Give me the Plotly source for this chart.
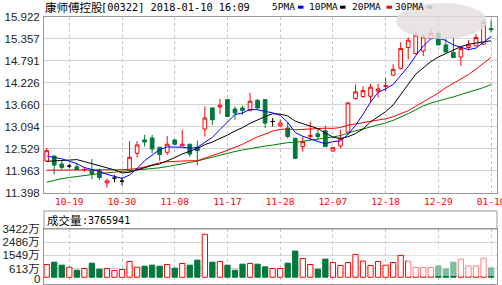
import plotly.graph_objects as go

# ---------------- data ----------------
dates = ["10-16", "10-17", "10-18", "10-19", "10-20", "10-23", "10-24", "10-25", "10-26", "10-27",
         "10-30", "10-31", "11-01", "11-02", "11-03", "11-06", "11-07", "11-08", "11-09", "11-10",
         "11-13", "11-14", "11-15", "11-16", "11-17", "11-20", "11-21", "11-22", "11-23", "11-24",
         "11-27", "11-28", "11-29", "11-30", "12-01", "12-04", "12-05", "12-06", "12-07", "12-08",
         "12-11", "12-12", "12-13", "12-14", "12-15", "12-18", "12-19", "12-20", "12-21", "12-22",
         "12-27", "12-28", "12-29", "01-02", "01-03", "01-04", "01-05", "01-08", "01-09", "01-10"]

opens = [12.213, 12.342, 12.135, 12.083, 12.065, 11.985, 11.979, 11.979, 11.650, 11.772,
         11.694, 11.966, 12.412, 12.757, 12.809, 12.568, 12.438, 12.757, 12.602, 12.646,
         12.568, 13.035, 13.580, 13.606, 13.795, 13.554, 13.580, 13.517, 13.777, 13.795,
         13.232, 13.120, 13.061, 12.801, 12.584, 12.843, 12.913, 12.991, 12.472, 12.602,
         12.957, 13.821, 13.873, 13.881, 14.015, 14.132, 14.425, 14.599, 15.136, 14.980,
         15.048, 15.369, 15.499, 15.203, 15.006, 14.892, 15.136, 15.178, 15.222, 15.624]
highs = [12.550, 12.360, 12.220, 12.135, 12.179, 12.065, 12.264, 12.023, 11.760, 11.850,
         11.798, 12.724, 12.724, 12.887, 12.887, 12.570, 12.861, 12.770, 13.017, 12.650,
         12.740, 13.621, 13.600, 13.813, 13.800, 13.621, 13.639, 13.969, 13.813, 13.800,
         13.320, 13.276, 13.216, 12.805, 12.843, 13.216, 13.035, 13.120, 12.560, 13.017,
         13.735, 14.184, 14.140, 14.202, 14.202, 14.358, 14.703, 15.266, 15.396, 15.567,
         15.481, 15.611, 15.559, 15.411, 15.411, 15.178, 15.325, 15.481, 15.870, 15.844]
lows = [12.200, 11.868, 11.997, 12.031, 11.979, 11.935, 11.746, 11.720, 11.530, 11.670,
        11.590, 11.935, 12.303, 12.584, 12.412, 12.220, 12.368, 12.620, 12.600, 12.324,
        12.109, 12.843, 13.147, 13.424, 13.360, 13.276, 13.406, 13.491, 13.535, 13.061,
        13.102, 13.100, 12.801, 12.264, 12.454, 12.757, 12.757, 12.580, 12.454, 12.542,
        12.887, 13.795, 13.839, 13.735, 13.850, 14.010, 14.399, 14.573, 14.833, 14.962,
        14.918, 15.351, 15.196, 15.014, 14.877, 14.659, 15.066, 15.170, 15.209, 15.525]
closes = [12.480, 12.109, 12.049, 12.083, 11.997, 11.995, 11.875, 11.790, 11.702, 11.772,
          11.694, 12.309, 12.628, 12.705, 12.524, 12.381, 12.646, 12.646, 12.646, 12.394,
          12.480, 13.320, 13.276, 13.647, 13.362, 13.450, 13.517, 13.751, 13.580, 13.191,
          13.232, 13.190, 12.843, 12.283, 12.713, 12.869, 12.843, 12.584, 12.558, 12.801,
          13.709, 13.995, 14.028, 14.114, 14.067, 14.150, 14.573, 15.110, 15.325, 15.455,
          15.411, 15.499, 15.203, 15.022, 14.877, 15.110, 15.203, 15.395, 15.784, 15.598]

ma5 = [12.34, 12.31, 12.27, 12.21, 12.144, 12.046, 11.999, 11.947, 11.871, 11.826,
       11.767, 11.853, 12.021, 12.222, 12.372, 12.509, 12.577, 12.580, 12.569, 12.543,
       12.562, 12.697, 12.823, 13.023, 13.217, 13.411, 13.450, 13.545, 13.532, 13.498,
       13.454, 13.389, 13.207, 12.948, 12.852, 12.780, 12.710, 12.658, 12.713, 12.731,
       12.899, 13.129, 13.418, 13.729, 13.983, 14.071, 14.186, 14.403, 14.645, 14.923,
       15.175, 15.360, 15.379, 15.318, 15.202, 15.142, 15.083, 15.121, 15.274, 15.418]
ma10 = [12.205, 12.213, 12.226, 12.24, 12.25, 12.20, 12.15, 12.10, 12.04, 11.985,
        11.906, 11.926, 11.984, 12.046, 12.099, 12.138, 12.215, 12.301, 12.395, 12.457,
        12.536, 12.637, 12.702, 12.796, 12.880, 12.987, 13.074, 13.184, 13.278, 13.357,
        13.433, 13.420, 13.376, 13.240, 13.175, 13.117, 13.050, 12.933, 12.831, 12.792,
        12.839, 12.920, 13.038, 13.221, 13.357, 13.485, 13.658, 13.911, 14.187, 14.453,
        14.623, 14.773, 14.891, 14.982, 15.063, 15.159, 15.222, 15.250, 15.296, 15.310]
ma20 = [11.979, 11.979, 11.980, 11.980, 11.980, 11.980, 11.980, 11.980, 11.981, 11.985,
        11.990, 12.000, 12.020, 12.060, 12.120, 12.170, 12.195, 12.208, 12.215, 12.221,
        12.221, 12.282, 12.343, 12.421, 12.490, 12.563, 12.645, 12.743, 12.837, 12.907,
        12.985, 13.029, 13.039, 13.018, 13.028, 13.052, 13.062, 13.059, 13.055, 13.075,
        13.136, 13.170, 13.207, 13.231, 13.266, 13.301, 13.354, 13.422, 13.509, 13.623,
        13.731, 13.847, 13.965, 14.102, 14.210, 14.322, 14.440, 14.581, 14.742, 14.882]
ma30 = [11.668, 11.720, 11.759, 11.790, 11.818, 11.842, 11.862, 11.888, 11.909, 11.927,
        11.940, 11.953, 11.971, 11.987, 12.010, 12.039, 12.070, 12.104, 12.135, 12.174,
        12.213, 12.264, 12.316, 12.368, 12.420, 12.459, 12.498, 12.537, 12.568, 12.600,
        12.625, 12.661, 12.687, 12.694, 12.718, 12.747, 12.779, 12.806, 12.834, 12.869,
        12.936, 12.992, 13.039, 13.086, 13.137, 13.196, 13.260, 13.343, 13.432, 13.534,
        13.632, 13.704, 13.768, 13.814, 13.865, 13.920, 13.976, 14.031, 14.105, 14.185]

# volume in 万 shares
volumes = [904, 1071, 857, 714, 500, 619, 1000, 571, 619, 476,
           547, 1119, 714, 785, 857, 785, 904, 643, 976, 857,
           1214, 3046, 1071, 1119, 857, 500, 928, 976, 928, 738,
           619, 619, 1000, 1856, 1333, 904, 571, 1285, 1047, 833,
           1047, 1618, 1142, 833, 1119, 857, 1047, 1547, 1142, 690,
           690, 690, 809, 595, 1071, 1285, 809, 809, 1357, 666]

date_ticks = ["10-19", "10-30", "11-08", "11-17", "11-28", "12-07", "12-18", "12-29", "01-10"]
price_ticks = [15.922, 15.357, 14.791, 14.226, 13.660, 13.094, 12.529, 11.963, 11.398]
price_tick_text = ["15.922", "15.357", "14.791", "14.226", "13.660", "13.094", "12.529", "11.963", "11.398"]
vol_ticks = [613, 1549, 2486, 3422]
vol_tick_text = ["613万", "1549万", "2486万", "3422万"]

title_name = "康师傅控股"
title_rest = "[00322] 2018-01-10 16:09"
ma_names = ["5PMA", "10PMA", "20PMA", "30PMA"]
vol_label = "成交量"
vol_last = ":3765941"

# ---------------- style ----------------
RED = "#ff0000"
GREEN = "#00783c"
MA_COLORS = ["#0000ff", "#000000", "#ff0000", "#008000"]
GRID = "#d2d2d2"
AXIS = "#999999"

W, H = 502, 285
ML, MR, MT, MB = 44, 5, 17, 1
PW, PH = W - ML - MR, H - MT - MB


def px(x):
    return (x - ML) / PW


def py(y):
    return (H - MB - y) / PH


n = len(dates)
up = [i for i in range(n) if closes[i] > opens[i]]
dn = [i for i in range(n) if closes[i] < opens[i]]
dj = [i for i in range(n) if closes[i] == opens[i]]


def pick(arr, idx):
    return [arr[i] for i in idx]


fig = go.Figure()
for idx, lc, fc in [(up, RED, "white"), (dn, GREEN, GREEN), (dj, "#000000", "#000000")]:
    style = dict(line=dict(color=lc, width=1), fillcolor=fc)
    fig.add_trace(go.Candlestick(
        x=pick(dates, idx), open=pick(opens, idx), high=pick(highs, idx),
        low=pick(lows, idx), close=pick(closes, idx),
        increasing=style, decreasing=style, whiskerwidth=0,
        xaxis="x", yaxis="y", hoverinfo="skip"))

for vals, col in zip([ma30, ma20, ma10, ma5], MA_COLORS[::-1]):
    fig.add_trace(go.Scatter(x=dates, y=vals, mode="lines",
                             line=dict(color=col, width=1), xaxis="x", yaxis="y",
                             hoverinfo="skip"))

vol_up = [closes[i] >= opens[i] for i in range(n)]
fig.add_trace(go.Bar(
    x=dates, y=volumes, xaxis="x2", yaxis="y2",
    marker=dict(color=["white" if u else GREEN for u in vol_up],
                line=dict(color=[RED if u else GREEN for u in vol_up], width=1)),
    hoverinfo="skip"))

xr = [-0.358, 59.79]
common_x = dict(type="category", categoryorder="array", categoryarray=dates, range=xr,
                showgrid=True, gridcolor="#c4c4c4", griddash="3px,3px", gridwidth=1,
                showline=True, mirror=True, linecolor=AXIS, linewidth=1, zeroline=False,
                ticks="", automargin=False, rangeslider=dict(visible=False),
                tickvals=date_ticks, ticktext=date_ticks)

fig.update_layout(
    width=W, height=H, margin=dict(l=ML, r=MR, t=MT, b=MB),
    paper_bgcolor="white", plot_bgcolor="white", showlegend=False,
    bargap=0.3, boxgap=0.3,
    xaxis=dict(**common_x, anchor="y",
               tickfont=dict(family="DejaVu Sans Mono", size=9.5, color=RED)),
    xaxis2=dict(**common_x, anchor="y2", matches="x", showticklabels=False),
    yaxis=dict(domain=[py(192.7), 1], range=[11.398, 15.922], tickvals=price_ticks,
               ticktext=price_tick_text, showgrid=True, gridcolor=GRID, gridwidth=1,
               showline=True, mirror=True, linecolor=AXIS, linewidth=1, zeroline=False,
               ticks="", ticklabelstandoff=1, automargin=False,
               tickfont=dict(family="Liberation Sans", size=11.5, color="#222")),
    yaxis2=dict(domain=[0, py(229)], range=[-478, 3422], tickvals=vol_ticks,
                ticktext=vol_tick_text, showgrid=True, gridcolor=GRID, gridwidth=1,
                showline=True, mirror=True, linecolor=AXIS, linewidth=1, zeroline=False,
                ticks="", ticklabelstandoff=1, automargin=False,
                tickfont=dict(family="Liberation Sans, Noto Sans CJK SC", size=11.5, color="#222")),
)

annotations = [
    dict(text=title_name, x=px(44), y=py(7), xanchor="left", yanchor="middle",
         font=dict(family="Noto Sans CJK SC", size=11.5, color="#000")),
    dict(text=title_rest, x=px(100), y=py(7), xanchor="left", yanchor="middle",
         font=dict(family="DejaVu Sans Mono", size=10.3, color="#000")),
    dict(text=vol_label, x=px(45.5), y=py(220), xanchor="left", yanchor="middle",
         font=dict(family="Noto Sans CJK SC", size=11.5, color="#000")),
    dict(text=vol_last, x=px(80.5), y=py(220), xanchor="left", yanchor="middle",
         font=dict(family="DejaVu Sans Mono", size=10, color="#000")),
    dict(text="0", x=px(41), y=py(278.5), xanchor="right", yanchor="middle",
         font=dict(family="Liberation Sans", size=11.5, color="#222")),
]
leg_x = [270.5, 308, 350.5, 394]
rect_x = [298, 340, 386.5, 427]
for name, lx in zip(ma_names, leg_x):
    annotations.append(dict(text=name, x=px(lx), y=py(7), xanchor="left", yanchor="middle",
                            font=dict(family="DejaVu Sans Mono", size=9.5, color="#000")))
for a in annotations:
    a.update(xref="paper", yref="paper", showarrow=False, borderpad=0)
fig.update_layout(annotations=annotations)

shapes = []
for rx, col in zip(rect_x, MA_COLORS):
    shapes.append(dict(type="rect", xref="paper", yref="paper", x0=px(rx), x1=px(rx + 5.5),
                       y0=py(8.7), y1=py(5.7), fillcolor=col, line=dict(width=0)))
# volume header box
shapes.append(dict(type="rect", xref="paper", yref="paper", x0=0, x1=1, y0=py(229), y1=py(211),
                   line=dict(color=AXIS, width=1), fillcolor="rgba(0,0,0,0)"))
# blurred watermark patches
shapes.append(dict(type="circle", xref="paper", yref="paper", x0=px(396), x1=px(487),
                   y0=py(39), y1=py(3), fillcolor="rgba(228,222,222,0.82)", line=dict(width=0),
                   layer="above"))
shapes.append(dict(type="rect", xref="paper", yref="paper", x0=px(407), x1=px(496),
                   y0=py(276), y1=py(246), fillcolor="rgba(255,255,255,0.5)", line=dict(width=0),
                   layer="above"))
fig.update_layout(shapes=shapes)

fig.write_html("out.html")
